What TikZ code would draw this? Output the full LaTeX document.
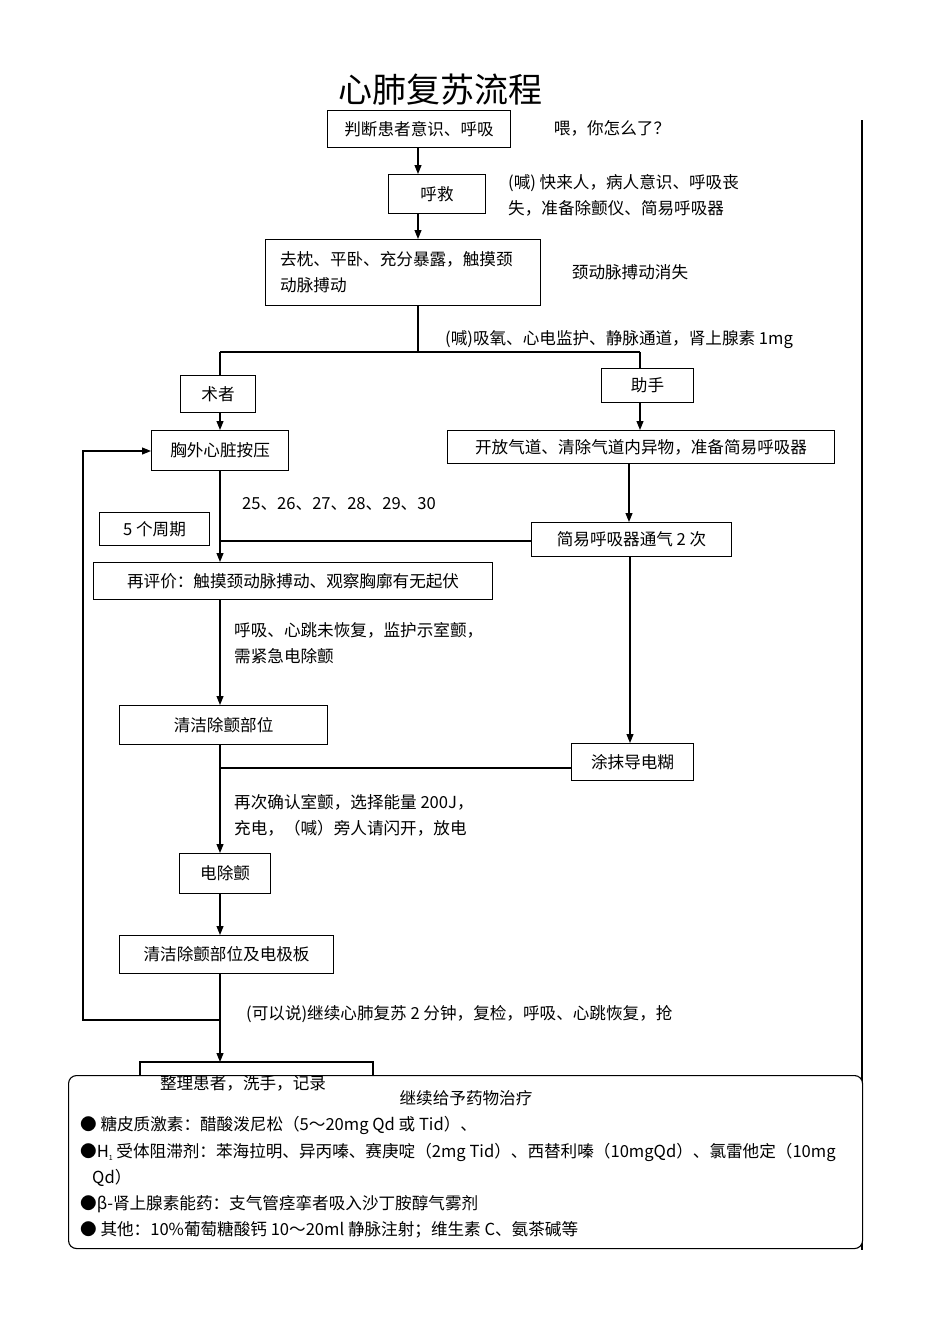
\documentclass[tikz,border=0pt]{standalone}
\usepackage{fontspec}
\setmainfont{Noto Sans CJK SC}
\usetikzlibrary{arrows.meta}
\begin{document}
\begin{tikzpicture}[x=1pt,y=-1pt,
  bx/.style={draw,line width=1.1pt,inner sep=0pt,anchor=north west},
  t/.style={font=\fontsize{16.6}{19}\selectfont,inner sep=0pt},
  t2/.style={t,anchor=west,align=left,font=\fontsize{16.6}{26}\selectfont},
  ar/.style={line width=1.1pt,-{Triangle[length=9pt,width=7pt]}},
  ln/.style={line width=1.1pt}]
\useasboundingbox (0,0) rectangle (950,1344);
\node[font=\fontsize{34}{36}\selectfont] (title) at (440,90) {心肺复苏流程};
\draw[ln] (862,120) -- (862,1250);
\node[bx,minimum width=183,minimum height=37] (b1) at (327,110) {};
\node[t] at (b1.center) {判断患者意识、呼吸};
\node[t] (s1) at (612,128) {喂，你怎么了？};
\node[bx,minimum width=97,minimum height=39] (b2) at (388,174) {};
\node[t] at (b2.center) {呼救};
\draw[ar] (b1.south-|418,0) -- (b2.north-|418,0);
\node[t2] (s2) at (508,195) {(喊) 快来人，病人意识、呼吸丧\\失，准备除颤仪、简易呼吸器};
\node[bx,minimum width=275,minimum height=66] (b3) at (265,239) {};
\node[t2] at (280,272) {去枕、平卧、充分暴露，触摸颈\\动脉搏动};
\draw[ar] (b2.south-|418,0) -- (b3.north-|418,0);
\node[t] (s3) at (630,272) {颈动脉搏动消失};
\coordinate (j1) at (418,352);
\draw[ln] (b3.south-|j1) -- (j1);
\draw[ln] (220,352) -- (640,352);
\node[t,anchor=west] (s4) at (445,340) {(喊)吸氧、心电监护、静脉通道，肾上腺素 1mg};
\node[bx,minimum width=75,minimum height=37] (sz) at (180,375) {};
\node[t] at (sz.center) {术者};
\node[bx,minimum width=92,minimum height=34] (zs) at (601,368) {};
\node[t] at (zs.center) {助手};
\draw[ln] (220,352) -- (sz.north-|220,0);
\draw[ln] (640,352) -- (zs.north-|640,0);
\node[bx,minimum width=137,minimum height=40] (xw) at (151,430) {};
\node[t] at (xw.center) {胸外心脏按压};
\draw[ar] (sz.south-|220,0) -- (xw.north-|220,0);
\node[bx,minimum width=387,minimum height=33] (kf) at (447,430) {};
\node[t] at (kf.center) {开放气道、清除气道内异物，准备简易呼吸器};
\draw[ar] (zs.south-|640,0) -- (kf.north-|640,0);
\node[bx,minimum width=200,minimum height=34] (jy) at (531,522) {};
\node[t] at (jy.center) {简易呼吸器通气 2 次};
\draw[ar] (kf.south-|629,0) -- (jy.north-|629,0);
\node[bx,minimum width=110,minimum height=33] (zq) at (99,512) {};
\node[t] at (zq.center) {5 个周期};
\node[t,anchor=west] (s5) at (242,504) {25、26、27、28、29、30};
\node[bx,minimum width=399,minimum height=37] (zp) at (93,562) {};
\node[t] at (zp.center) {再评价：触摸颈动脉搏动、观察胸廓有无起伏};
\draw[ar] (xw.south-|220,0) -- (zp.north-|220,0);
\draw[ln] (jy.west|-0,541) -- (220,541);
\node[t2] (s6) at (234,643) {呼吸、心跳未恢复，监护示室颤，\\需紧急电除颤};
\node[bx,minimum width=208,minimum height=39] (qj) at (119,705) {};
\node[t] at (qj.center) {清洁除颤部位};
\draw[ar] (zp.south-|220,0) -- (qj.north-|220,0);
\node[bx,minimum width=122,minimum height=37] (tm) at (571,743) {};
\node[t] at (tm.center) {涂抹导电糊};
\draw[ar] (jy.south-|630,0) -- (tm.north-|630,0);
\draw[ln] (tm.west|-0,768) -- (220,768);
\node[t2] (s7) at (234,815) {再次确认室颤，选择能量 200J，\\充电，（喊）旁人请闪开，放电};
\node[bx,minimum width=91,minimum height=40] (dc) at (179,853) {};
\node[t] at (dc.center) {电除颤};
\draw[ar] (qj.south-|220,0) -- (dc.north-|220,0);
\node[bx,minimum width=214,minimum height=38] (qd) at (119,935) {};
\node[t] at (qd.center) {清洁除颤部位及电极板};
\draw[ar] (dc.south-|220,0) -- (qd.north-|220,0);
\node[t,anchor=west] (s8) at (246,1014) {(可以说)继续心肺复苏 2 分钟，复检，呼吸、心跳恢复，抢};
\coordinate (zl) at (220,1062);
\draw[ar] (qd.south-|220,0) -- (zl);
\draw[ar] (220,1020) -- (83,1020) -- (83,451) -- (xw.west|-0,451);
\draw[ln] (140,1075) -- (140,1062) -- (373,1062) -- (373,1075);
\node[draw,line width=1.1pt,rounded corners=8pt,minimum width=794,minimum height=173,anchor=north west,fill=white] (yw) at (68,1075) {};
\node[t] at (243,1083) {整理患者，洗手，记录};
\node[t] at (466,1098) {继续给予药物治疗};
\node[t,anchor=west] at (80,1125) {● 糖皮质激素：醋酸泼尼松（5～20mg Qd 或 Tid）、};
\node[t,anchor=west] at (80,1152) {●H\raisebox{-0.4ex}{\scriptsize 1} 受体阻滞剂：苯海拉明、异丙嗪、赛庚啶（2mg Tid）、西替利嗪（10mgQd）、氯雷他定（10mg};
\node[t,anchor=west] at (92,1178) {Qd）};
\node[t,anchor=west] at (80,1204) {●β-肾上腺素能药：支气管痉挛者吸入沙丁胺醇气雾剂};
\node[t,anchor=west] at (80,1230) {● 其他：10\%葡萄糖酸钙 10～20ml 静脉注射；维生素 C、氨茶碱等};
\end{tikzpicture}
\end{document}
